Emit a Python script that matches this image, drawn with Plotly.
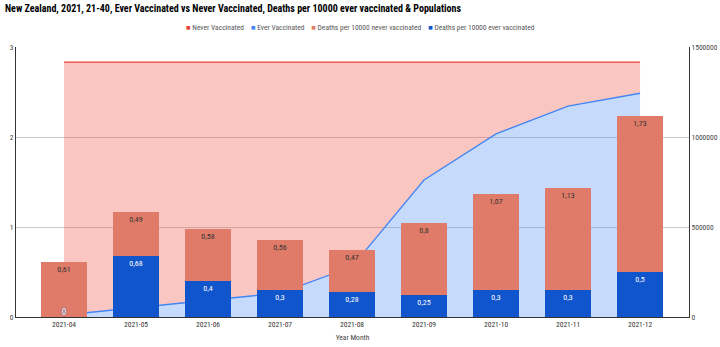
import plotly.graph_objects as go

months = ["2021-04", "2021-05", "2021-06", "2021-07", "2021-08", "2021-09", "2021-10", "2021-11", "2021-12"]
never_vaccinated = [1405000, 1365000, 1325000, 1283000, 1137000, 655000, 399000, 244000, 173000]
ever_vaccinated = [11000, 51000, 91000, 133000, 279000, 761000, 1017000, 1172000, 1243000]
deaths_never = [0.61, 0.49, 0.58, 0.56, 0.47, 0.8, 1.07, 1.13, 1.73]
deaths_ever = [0, 0.68, 0.4, 0.3, 0.28, 0.25, 0.3, 0.3, 0.5]

FONT = "Roboto Condensed, Liberation Sans, Arial, sans-serif"
C_NEVER = "#ea4335"
C_EVER = "#4285f4"
C_DN = "#df7b68"
C_DE = "#1155cc"

W, H = 720, 347
ML, MR, MT, MB = 16, 31, 47, 30


def fmt(v):
    return ("%g" % v).replace(".", ",")


fig = go.Figure()
# populations (stacked areas) on the base y axis (right side)
fig.add_trace(go.Scatter(x=months, y=ever_vaccinated, name="Ever Vaccinated", stackgroup="pop",
                         mode="lines", line=dict(color=C_EVER, width=1.3),
                         fillcolor="rgba(66,133,244,0.3)", yaxis="y"))
fig.add_trace(go.Scatter(x=months, y=never_vaccinated, name="Never Vaccinated", stackgroup="pop",
                         mode="lines", line=dict(color=C_NEVER, width=1.3),
                         fillcolor="rgba(234,67,53,0.3)", yaxis="y"))
# deaths (stacked bars) on the left axis
fig.add_trace(go.Bar(x=months, y=deaths_ever, name="Deaths per 10000 ever vaccinated", yaxis="y2",
                     marker=dict(color=C_DE, line=dict(width=0)), width=0.645,
                     text=[fmt(v) if v > 0 else "" for v in deaths_ever], textposition="inside",
                     insidetextanchor="end", textangle=0,
                     insidetextfont=dict(color="white", size=8, family=FONT)))
fig.add_trace(go.Bar(x=months, y=deaths_never, name="Deaths per 10000 never vaccinated", yaxis="y2",
                     marker=dict(color=C_DN, line=dict(width=0)), width=0.645,
                     text=[fmt(v) for v in deaths_never], textposition="inside",
                     insidetextanchor="end", textangle=0,
                     insidetextfont=dict(color="#333333", size=8, family=FONT)))
# label for zero-valued ever-vaccinated bars
zx = [m for m, v in zip(months, deaths_ever) if v == 0]
zy = [v for v in deaths_ever if v == 0]
fig.add_trace(go.Scatter(x=zx, y=zy, mode="text", text=[fmt(v) for v in zy], yaxis="y2",
                         textposition="top center", showlegend=False,
                         textfont=dict(color="white", size=9, family=FONT,
                                       shadow="0px 0px 2px #1155cc")))

legend_items = [("Never Vaccinated", C_NEVER), ("Ever Vaccinated", C_EVER),
                ("Deaths per 10000 never vaccinated", C_DN), ("Deaths per 10000 ever vaccinated", C_DE)]
legend_text = "&nbsp;&nbsp;&nbsp;&nbsp;".join(
    '<span style="color:%s">■</span>&nbsp;%s' % (c, n) for n, c in legend_items)

pw = W - ML - MR
ph = H - MT - MB

fig.update_layout(
    width=W, height=H,
    margin=dict(l=ML, r=MR, t=MT, b=MB),
    paper_bgcolor="white", plot_bgcolor="white",
    barmode="stack", showlegend=False,
    font=dict(family=FONT, size=8, color="#444444"),
    title=dict(text="<b>New Zealand, 2021, 21-40, Ever Vaccinated vs Never Vaccinated, Deaths per 10000 ever vaccinated & Populations</b>",
               x=5 / W, xanchor="left", y=1 - 8 / H, yanchor="middle",
               font=dict(family=FONT, size=10, color="#000000")),
    xaxis=dict(type="category", range=[-0.667, 8.68], showline=True, linecolor="#333333",
               linewidth=1, ticks="", showgrid=False, automargin=False,
               title=dict(text="Year Month", font=dict(size=7.5, color="#444444"), standoff=6),
               tickfont=dict(size=7.5, color="#333333")),
    yaxis=dict(side="right", range=[0, 1500000], tickvals=[0, 500000, 1000000, 1500000],
               ticktext=["0", "500000", "1000000", "1500000"], showline=True, linecolor="#333333",
               showgrid=True, gridcolor="#cccccc", zeroline=False, ticks="", automargin=False,
               tickfont=dict(size=7.5, color="#444444")),
    yaxis2=dict(side="left", overlaying="y", range=[0, 3], tickvals=[0, 1, 2, 3],
                showline=True, linecolor="#333333", showgrid=False, zeroline=False, ticks="",
                automargin=False, tickfont=dict(size=7.5, color="#444444")),
    annotations=[dict(text=legend_text, x=(360 - ML) / pw, xref="paper", xanchor="center",
                      y=(H - MB - 28) / ph, yref="paper", yanchor="middle",
                      showarrow=False, font=dict(size=7.5, color="#555555"))],
)

fig.write_html("out.html")
